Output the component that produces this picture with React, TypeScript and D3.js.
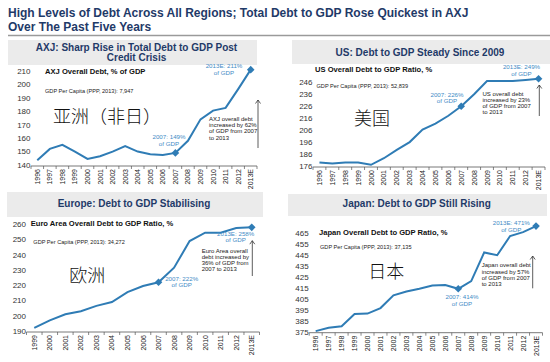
import React from 'react';
import * as d3 from 'd3';

// category labels
const years96 = ['1996', '1997', '1998', '1999', '2000', '2001', '2002', '2003', '2004', '2005', '2006', '2007', '2008', '2009', '2010', '2011', '2012', '2013E'];
const years99 = ['1999', '2000', '2001', '2002', '2003', '2004', '2005', '2006', '2007', '2008', '2009', '2010', '2011', '2012', '2013E'];

// debt to GDP, %
const axjValues = [143.5, 152, 155, 150, 144.5, 146.5, 150, 154, 150, 148, 147.5, 149, 158, 174, 180.5, 182.5, 196.5, 211];
const usValues = [179, 178, 179, 179, 177, 182.5, 189.5, 196, 206.5, 211.5, 218, 226, 236, 247, 247, 247, 248, 249];
const euValues = [192, 197, 201, 203, 206.5, 209, 215.5, 219.5, 222, 231.5, 249, 254.5, 254.5, 257.5, 258];
const jpValues = [375.5, 378.5, 380, 391, 391.5, 396.5, 408, 411.5, 414, 417, 417.5, 414, 421, 447, 444.5, 462, 465.5, 471];

// y tick labels
const axjTicks = [140, 150, 160, 170, 180, 190, 200, 210];
const usTicks = [176, 186, 196, 206, 216, 226, 236, 246];
const euTicks = [190, 200, 210, 220, 230, 240, 250, 260];
const jpTicks = [375, 385, 395, 405, 415, 425, 435, 445, 455, 465];

const FONT = 'Liberation Sans, Arial, sans-serif';
const LINE = '#2f7cb5';
const NOTE = '#3f8cc6';
const NAVY = '#1f3a68';

type Panel = {
  header: string[];
  headerBox: [number, number, number, number];
  headerX: number;
  headerY: number;
  years: string[];
  values: number[];
  ticks: number[];
  xRange: [number, number];
  yDomain: [number, number];
  yRange: [number, number];
  title: string;
  titlePos: [number, number];
  gdp: string;
  gdpPos: [number, number];
  cjk: string;
  cjkPos: [number, number];
  note07: string[];
  note07Pos: [number, number];
  note13: string[];
  note13Pos: [number, number];
  black: string[];
  blackPos: [number, number];
  arrow: [number, number, number];
};

const panels: Panel[] = [
  {
    header: ['AXJ: Sharp Rise in Total Debt to GDP Post', 'Credit Crisis'],
    headerBox: [8, 40, 249, 25], headerX: 136.5, headerY: 50.5,
    years: years96, values: axjValues, ticks: axjTicks,
    xRange: [31, 257], yDomain: [140, 210], yRange: [165, 71],
    title: 'AXJ Overall Debt, % of GDP', titlePos: [45, 73.5],
    gdp: 'GDP Per Capita (PPP, 2013): 7,947', gdpPos: [45, 92.5],
    cjk: '亚洲（非日）', cjkPos: [53, 122.5],
    note07: ['2007: 149%', 'of GDP'], note07Pos: [169, 139],
    note13: ['2013E: 211%', 'of GDP'], note13Pos: [224, 68],
    black: ['AXJ overall debt', 'increased by 62%', 'of GDP from 2007', 'to 2013'], blackPos: [209, 121],
    arrow: [258, 100, 148],
  },
  {
    header: ['US: Debt to GDP Steady Since 2009'],
    headerBox: [292, 40, 258, 24], headerX: 420, headerY: 56,
    years: years96, values: usValues, ticks: usTicks,
    xRange: [313, 545], yDomain: [176, 246], yRange: [166, 82.3],
    title: 'US Overall Debt to GDP Ratio, %', titlePos: [315, 72.3],
    gdp: 'GDP Per Capita (PPP, 2013): 52,839', gdpPos: [316.5, 87.7],
    cjk: '美国', cjkPos: [354, 124.5],
    note07: ['2007: 226%', 'of GDP'], note07Pos: [447, 96.5],
    note13: ['2013E: 249%', 'of GDP'], note13Pos: [521.5, 69.3],
    black: ['US overall debt', 'increased by 23%', 'of GDP from 2007', 'to 2013'], blackPos: [482.5, 95.5],
    arrow: [539.3, 85, 116],
  },
  {
    header: ['Europe: Debt to GDP Stabilising'],
    headerBox: [7, 192, 256, 25], headerX: 134, headerY: 207.3,
    years: years99, values: euValues, ticks: euTicks,
    xRange: [26.5, 259.5], yDomain: [190, 260], yRange: [331, 224.3],
    title: 'Euro Area Overall Debt to GDP Ratio, %', titlePos: [30.7, 226],
    gdp: 'GDP Per Capita (PPP, 2013): 34,272', gdpPos: [33.3, 244.3],
    cjk: '欧洲', cjkPos: [69.3, 281.5],
    note07: ['2007: 222%', 'of GDP'], note07Pos: [181.7, 280.7],
    note13: ['2013E: 258%', 'of GDP'], note13Pos: [235.7, 235.7],
    black: ['Euro Area overall', 'debt increased by', '36% of GDP from', '2007 to 2013'], blackPos: [201.7, 252.7],
    arrow: [252.3, 240.7, 276],
  },
  {
    header: ['Japan: Debt to GDP Still Rising'],
    headerBox: [288, 194, 259, 22], headerX: 416.7, headerY: 207.3,
    years: years96, values: jpValues, ticks: jpTicks,
    xRange: [309.2, 542.5], yDomain: [375, 465], yRange: [331.7, 232.7],
    title: 'Japan Overall Debt to GDP Ratio, %', titlePos: [319, 235],
    gdp: 'GDP Per Capita (PPP, 2013): 37,135', gdpPos: [320, 249],
    cjk: '日本', cjkPos: [368.3, 278],
    note07: ['2007: 414%', 'of GDP'], note07Pos: [462, 299.3],
    note13: ['2013E: 471%', 'of GDP'], note13Pos: [511.3, 225],
    black: ['Japan overall debt', 'increased by 57%', 'of GDP from 2007', 'to 2013'], blackPos: [481.7, 267.3],
    arrow: [532.7, 256, 288.3],
  },
];

const Diamond = ({ x, y }: { x: number; y: number }) => (
  <path d={`M${x},${y - 3.8}L${x + 3.8},${y}L${x},${y + 3.8}L${x - 3.8},${y}Z`} fill={LINE} />
);

const ChartPanel = ({ p }: { p: Panel }) => {
  const x = d3.scaleBand<string>().domain(p.years).range(p.xRange);
  const y = d3.scaleLinear().domain(p.yDomain).range(p.yRange);
  const cx = (d: string) => (x(d) as number) + x.bandwidth() / 2;
  const line = d3.line<number>()
    .x((_, i) => cx(p.years[i]))
    .y((d) => y(d));
  const base = y(p.yDomain[0]) + 1;
  const i07 = p.years.indexOf('2007');
  const last = p.years.length - 1;
  const [bx, by, bw, bh] = p.headerBox;

  return (
    <g>
      <rect x={bx} y={by} width={bw} height={bh} fill="#ebebeb" />
      {p.header.map((t, i) => (
        <text key={t} x={p.headerX} y={p.headerY + i * 10} textAnchor="middle"
          fontSize={10} fontWeight="bold" fill={NAVY}>{t}</text>
      ))}
      {p.ticks.map((t) => (
        <text key={t} x={p.xRange[0] - 0.5} y={y(t) + 2.8} textAnchor="end" fontSize={8} fill="#333">{t}</text>
      ))}
      <line x1={p.xRange[0]} x2={p.xRange[1]} y1={base} y2={base} stroke="#555" strokeWidth={0.8} />
      {p.years.map((d) => (
        <line key={'t' + d} x1={x(d) as number} x2={x(d) as number} y1={base} y2={base + 3} stroke="#555" strokeWidth={0.7} />
      ))}
      <line x1={p.xRange[1]} x2={p.xRange[1]} y1={base} y2={base + 3} stroke="#555" strokeWidth={0.7} />
      {p.years.map((d) => (
        <text key={'l' + d} transform={`translate(${cx(d) + 2.5},${base + 3})rotate(-90)`}
          textAnchor="end" fontSize={7} fill="#222">{d}</text>
      ))}
      <path d={line(p.values) as string} fill="none" stroke={LINE} strokeWidth={2} />
      <Diamond x={cx(p.years[i07])} y={y(p.values[i07])} />
      <Diamond x={cx(p.years[last])} y={y(p.values[last])} />

      <text x={p.titlePos[0]} y={p.titlePos[1]} fontSize={7.6} fontWeight="bold" fill="#111">{p.title}</text>
      <text x={p.gdpPos[0]} y={p.gdpPos[1]} fontSize={5.6} fill="#222">{p.gdp}</text>
      <text x={p.cjkPos[0]} y={p.cjkPos[1]} fontSize={18} fill="#111"
        fontFamily="Noto Sans CJK SC" fontWeight={300}>{p.cjk}</text>

      {p.note07.map((t, i) => (
        <text key={'a' + i} x={p.note07Pos[0]} y={p.note07Pos[1] + i * 6.5} textAnchor="middle" fontSize={6.2} fill={NOTE}>{t}</text>
      ))}
      {p.note13.map((t, i) => (
        <text key={'b' + i} x={p.note13Pos[0]} y={p.note13Pos[1] + i * 6.5} textAnchor="middle" fontSize={6.2} fill={NOTE}>{t}</text>
      ))}
      {p.black.map((t, i) => (
        <text key={'c' + i} x={p.blackPos[0]} y={p.blackPos[1] + i * 6.2} fontSize={6} fill="#222">{t}</text>
      ))}
      <line x1={p.arrow[0]} x2={p.arrow[0]} y1={p.arrow[1]} y2={p.arrow[2]} stroke="#333" strokeWidth={0.8} />
      <path d={`M${p.arrow[0] - 2.5},${p.arrow[1] + 3.5}L${p.arrow[0]},${p.arrow[1]}L${p.arrow[0] + 2.5},${p.arrow[1] + 3.5}`}
        fill="none" stroke="#333" strokeWidth={0.8} />
    </g>
  );
};

export default function App() {
  return (
    <svg width={550} height={362} style={{ position: 'absolute', left: 0, top: 0, background: '#fff' }}
      fontFamily={FONT}>
      <rect width={550} height={362} fill="#fff" />
      <text x={8} y={16.7} fontSize={12} fontWeight="bold" fill={NAVY}>
        High Levels of Debt Across All Regions; Total Debt to GDP Rose Quickest in AXJ
      </text>
      <text x={8} y={30.7} fontSize={12} fontWeight="bold" fill={NAVY}>Over The Past Five Years</text>
      <line x1={8} x2={550} y1={35.5} y2={35.5} stroke="#9a9a9a" strokeWidth={1.5} />
      {panels.map((p) => <ChartPanel key={p.title} p={p} />)}
    </svg>
  );
}
